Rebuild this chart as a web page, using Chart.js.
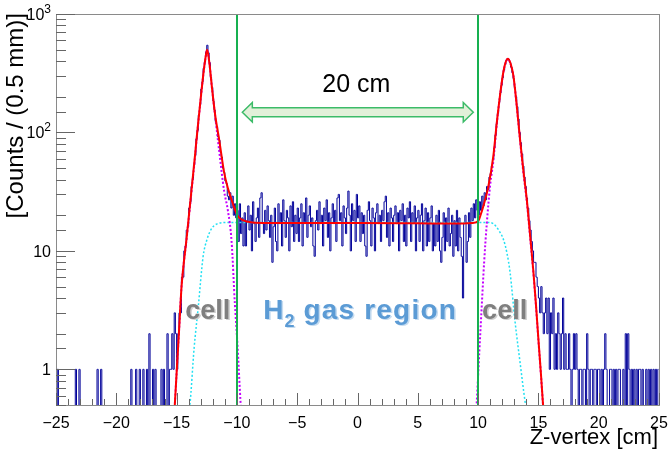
<!DOCTYPE html>
<html>
<head>
<meta charset="utf-8">
<script src="https://cdn.jsdelivr.net/npm/chart.js@4"></script>
<style>
  html, body { margin: 0; padding: 0; background: #fff; }
  #wrap { width: 668px; height: 449px; }
</style>
</head>
<body>
<div id="wrap"><canvas id="zvertex" width="668" height="449"></canvas></div>
<script>
// histogram: 500 bins of 0.1 cm from -25 to 25, one row per 5 cm
const binLow = -25;
const binWidth = 0.1;
const counts = [
  0,1,0,0,0,0,0,0,0,0, 0,0,0,0,0,0,1,0,0,1, 0,0,0,0,0,0,0,0,0,0, 0,0,0,0,1,0,0,1,0,0, 0,0,0,0,0,0,0,0,0,0,
  0,0,0,0,0,0,0,0,0,0, 0,0,1,0,0,0,1,0,0,1, 0,0,1,0,0,1,0,2,0,0, 1,0,1,0,0,0,0,1,0,1, 0,0,2,0,1,1,2,1,3,2,
  1,2,3,3,6,6,10,11,15,16, 23,26,35,40,53,64,88,104,140,172, 232,268,348,392,478,545,470,388,292,240, 185,155,124,112,92,86,68,62,50,46, 39,37,29,27,31,23,29,20,25,19,
  22,12,25,14,19,11,21,11,18,24, 15,20,10,26,17,12,19,23,13,28, 31,17,14,22,15,24,18,13,20,8, 16,23,12,10,25,17,21,11,27,18, 13,22,19,10,24,16,26,12,20,14,
  23,12,19,25,11,21,17,28,13,20, 24,16,19,11,9,18,22,15,26,17, 20,11,23,18,27,13,21,10,19,25, 17,22,12,28,30,18,21,11,24,19, 14,23,32,20,10,25,18,22,12,30,
  19,24,12,21,14,20,11,9,22,26, 18,11,23,19,10,21,25,17,20,12, 22,18,26,29,13,21,11,23,19,12, 20,24,17,21,10,22,18,25,12,20, 11,23,19,26,12,21,17,24,10,19,
  22,12,20,25,10,18,23,11,21,12, 19,24,10,17,11,20,12,22,10,8, 13,21,10,19,12,23,11,14,20,9, 18,11,22,10,19,13,9,4,17,20, 8,12,21,13,23,18,25,19,27,22,
  20,26,22,29,24,31,27,35,33,42, 45,52,60,74,95,118,145,180,215,250, 290,335,375,405,420,415,390,355,320,285, 240,200,165,130,100,82,66,52,42,35, 28,23,18,15,12,10,8,8,6,5,
  4,3,5,3,2,3,4,2,4,1, 3,2,4,1,2,1,3,2,1,2, 4,1,2,1,1,2,1,0,1,2, 1,2,1,0,1,1,0,1,1,0, 2,1,0,1,1,0,1,1,0,1,
  1,0,1,0,1,2,1,0,0,1, 1,0,1,0,1,0,1,1,0,0, 1,0,2,0,2,1,0,1,0,1, 0,1,0,1,1,0,1,0,0,1, 0,1,0,1,0,1,0,1,0,1
];

// total fit (red)
const fitX = [-15.3,-15.15,-15.0,-14.8,-14.59,-14.4,-14.18,-14.0,-13.76,-13.5,-13.35,-13.0,-12.8,-12.6,-12.47,-12.3,-12.05,-11.8,-11.47,-11.06,-10.75,-10.44,-10.1,-9.9,-9.5,-9.2,-8.5,-5,0,5,8,9.5,10.02,10.2,10.44,10.85,11.27,11.55,11.96,12.2,12.46,12.7,12.93,13.2,13.48,13.75,14.04,14.3,14.59,14.8,15.0,15.2,15.37,15.5];
const fitY = [0.3,0.5,0.93,2.1,5,8,12.5,19,33,60,87,195,300,430,500,400,230,140,87,46,34,27,21.5,19.5,18.2,17.7,17.3,17.2,17.2,17.1,17.0,17.2,17.9,20,24,35,64,121,265,365,418,380,300,170,87,48,27,14,6.6,3.5,1.8,0.95,0.53,0.35];

// cell components (magenta dotted)
const cellLX = [-15.3,-15.15,-15.0,-14.8,-14.59,-14.4,-14.18,-14.0,-13.76,-13.5,-13.35,-13.0,-12.8,-12.6,-12.47,-12.3,-12.05,-11.8,-11.47,-11.06,-10.75,-10.44,-10.17,-9.95,-9.7,-9.55];
const cellLY = [0.3,0.5,0.93,2.1,5,8,12.4,18.5,32,58,85,192,298,428,498,398,228,136,70,32,22,12,3.6,1.6,0.53,0.3];
const cellRX = [9.75,9.89,10.1,10.3,10.5,10.72,11.0,11.27,11.55,11.96,12.2,12.46,12.7,12.93,13.2,13.48,13.75,14.04,14.3,14.59,14.8,15.0,15.2,15.37,15.5];
const cellRY = [0.3,0.53,1.4,3.4,8,17,36,58,118,262,362,416,377,297,168,85,46,26,13.5,6.4,3.4,1.75,0.93,0.52,0.34];

// gas component (cyan dotted)
const gasX = [-14.1,-13.9,-13.55,-13.2,-12.8,-12.5,-12.2,-11.9,-11.5,-11,-5,0,5,10.8,11.25,11.7,12.1,12.4,12.65,13.07,13.5,13.9,14.1];
const gasY = [0.4,0.5,1.5,3.4,9,12.3,14.8,16.3,17.1,17.4,17.4,17.4,17.4,17.4,17,15,12.5,9.5,6.6,2.5,1.1,0.53,0.4];

const regionEdges = [-10, 10];
const xTicks = [-25, 25, 5];
// decade labels: [base, exponent]
const yLabels = {1: ['1', ''], 10: ['10', ''], 100: ['10', '2'], 1000: ['10', '3']};

const FONT = "'Liberation Sans', Arial, Helvetica, sans-serif";
const pts = (xs, ys) => xs.map((x, i) => ({x: x, y: ys[i]}));

const decorations = {
  id: 'decorations',
  afterDatasetsDraw(chart) {
    const {ctx, chartArea: a, scales: {x, y}} = chart;
    ctx.save();
    // target cell borders
    ctx.strokeStyle = '#16b050';
    ctx.lineWidth = 2;
    regionEdges.forEach(v => {
      const px = Math.round(x.getPixelForValue(v));
      ctx.beginPath();
      ctx.moveTo(px, a.top);
      ctx.lineTo(px, a.bottom);
      ctx.stroke();
    });
    // double arrow
    const xl = x.getPixelForValue(-9.55), xr = x.getPixelForValue(9.6), yc = y.getPixelForValue(148);
    const hl = 10, hh = 9.7, sh = 4.5;
    ctx.beginPath();
    ctx.moveTo(xl, yc);
    ctx.lineTo(xl + hl, yc - hh);
    ctx.lineTo(xl + hl, yc - sh);
    ctx.lineTo(xr - hl, yc - sh);
    ctx.lineTo(xr - hl, yc - hh);
    ctx.lineTo(xr, yc);
    ctx.lineTo(xr - hl, yc + hh);
    ctx.lineTo(xr - hl, yc + sh);
    ctx.lineTo(xl + hl, yc + sh);
    ctx.lineTo(xl + hl, yc + hh);
    ctx.closePath();
    ctx.fillStyle = '#e2f0d9';
    ctx.fill();
    ctx.strokeStyle = '#3cbb68';
    ctx.lineWidth = 1.5;
    ctx.stroke();

    ctx.fillStyle = '#000';
    ctx.font = '25px ' + FONT;
    ctx.textAlign = 'center';
    ctx.textBaseline = 'alphabetic';
    ctx.fillText('20 cm', x.getPixelForValue(-0.1), y.getPixelForValue(220));

    // labels with a soft shadow
    const shadowText = (txt, px, py, col, shade, align) => {
      ctx.textAlign = align;
      ctx.fillStyle = shade;
      ctx.fillText(txt, px + 1.5, py + 1.5);
      ctx.fillStyle = col;
      ctx.fillText(txt, px, py);
    };
    ctx.font = 'bold 27px ' + FONT;
    const by = y.getPixelForValue(2.68);
    shadowText('cell', x.getPixelForValue(-12.42), by, '#7f7f7f', '#cfcfcf', 'center');
    shadowText('cell', x.getPixelForValue(12.2), by, '#7f7f7f', '#cfcfcf', 'center');

    let hx = x.getPixelForValue(-7.82);
    ctx.font = 'bold 28px ' + FONT;
    shadowText('H', hx, by, '#5b9bd5', '#c6dcf0', 'left');
    hx += ctx.measureText('H').width + 1;
    ctx.font = 'bold 18px ' + FONT;
    shadowText('2', hx, by + 8, '#5b9bd5', '#c6dcf0', 'left');
    hx += ctx.measureText('2').width;
    ctx.font = 'bold 28px ' + FONT;
    ctx.letterSpacing = '1.2px';
    shadowText(' gas region', hx, by, '#5b9bd5', '#c6dcf0', 'left');
    ctx.letterSpacing = '0px';
    ctx.restore();
  },
  afterDraw(chart) {
    const {ctx, chartArea: a, scales: {x, y}} = chart;
    ctx.save();
    // frame
    ctx.strokeStyle = '#8a8a8a';
    ctx.lineWidth = 1;
    ctx.strokeRect(Math.round(a.left) + 0.5, Math.round(a.top) + 0.5, Math.round(a.right - a.left), Math.round(a.bottom - a.top));
    // x ticks (inside)
    ctx.strokeStyle = '#666';
    ctx.beginPath();
    for (let v = xTicks[0]; v <= xTicks[1]; v += 1) {
      const px = Math.round(x.getPixelForValue(v)) + 0.5;
      const len = v % xTicks[2] === 0 ? 12 : 6;
      ctx.moveTo(px, a.bottom);
      ctx.lineTo(px, a.bottom - len);
    }
    // y ticks (inside), log decades
    y.ticks.forEach(t => {
      const py = Math.round(y.getPixelForValue(t.value)) + 0.5;
      const len = yLabels[t.value] ? 19 : 10;
      ctx.moveTo(a.left, py);
      ctx.lineTo(a.left + len, py);
    });
    ctx.stroke();

    // y decade labels with raised exponent
    ctx.fillStyle = '#000';
    ctx.textAlign = 'right';
    ctx.textBaseline = 'alphabetic';
    Object.keys(yLabels).forEach(k => {
      const [base, exp] = yLabels[k];
      const py = y.getPixelForValue(Number(k));
      let right = a.left - 5;
      if (exp) {
        ctx.font = '12px ' + FONT;
        ctx.fillText(exp, right, py - 1);
        right -= ctx.measureText(exp).width;
      }
      ctx.font = '16px ' + FONT;
      ctx.fillText(base, right, py + 6);
    });

    // axis titles
    ctx.font = '22px ' + FONT;
    ctx.textAlign = 'right';
    ctx.fillText('Z-vertex [cm]', 658, 444);

    ctx.translate(23, 13);
    ctx.rotate(-Math.PI / 2);
    ctx.font = '24px ' + FONT;
    ctx.textAlign = 'right';
    ctx.fillText('[Counts / (0.5 mm)]', 0, 0);
    ctx.restore();
  }
};

const ctx = document.getElementById('zvertex').getContext('2d');

new Chart(ctx, {
  type: 'line',
  data: {
    datasets: [
      {
        label: 'fit',
        data: pts(fitX, fitY),
        borderColor: '#ff0000',
        borderWidth: 2,
        pointRadius: 0,
        cubicInterpolationMode: 'monotone',
        order: 0
      },
      {
        label: 'cell upstream',
        data: pts(cellLX, cellLY),
        borderColor: '#c400ff',
        borderWidth: 2,
        borderDash: [2, 2],
        pointRadius: 0,
        cubicInterpolationMode: 'monotone',
        order: 1
      },
      {
        label: 'cell downstream',
        data: pts(cellRX, cellRY),
        borderColor: '#c400ff',
        borderWidth: 2,
        borderDash: [2, 2],
        pointRadius: 0,
        cubicInterpolationMode: 'monotone',
        order: 1
      },
      {
        label: 'H2 gas',
        data: pts(gasX, gasY),
        borderColor: '#22e0f2',
        borderWidth: 1.5,
        borderDash: [2, 2],
        pointRadius: 0,
        cubicInterpolationMode: 'monotone',
        order: 2
      },
      {
        label: 'data',
        data: counts.map((c, i) => ({x: binLow + (i + 0.5) * binWidth, y: c > 0 ? c : 0.1})),
        borderColor: '#000099',
        borderWidth: 1,
        pointRadius: 0,
        stepped: 'middle',
        order: 3
      }
    ]
  },
  options: {
    responsive: false,
    animation: false,
    events: [],
    layout: { padding: { top: 14, right: 9, bottom: 0, left: 0 } },
    plugins: {
      legend: { display: false },
      tooltip: { enabled: false }
    },
    scales: {
      x: {
        type: 'linear',
        min: xTicks[0],
        max: xTicks[1],
        grid: { display: false, drawTicks: false },
        border: { display: false },
        ticks: {
          stepSize: xTicks[2],
          padding: 9,
          color: '#000',
          font: { family: FONT, size: 16 },
          maxRotation: 0,
          callback: v => String(v).replace('-', '\u2212')
        },
        afterFit(s) { s.height = 44; s.paddingLeft = 0; s.paddingRight = 0; }
      },
      y: {
        type: 'logarithmic',
        min: 0.5,
        max: 1000,
        grid: { display: false, drawTicks: false },
        border: { display: false },
        ticks: {
          autoSkip: false,
          padding: 5,
          display: true,
          color: 'rgba(0,0,0,0)',
          font: { family: FONT, size: 16 },
          callback: v => (yLabels[v] ? yLabels[v].join('') : '')
        },
        afterFit(s) { s.width = 56; s.paddingTop = 0; s.paddingBottom = 0; }
      }
    }
  },
  plugins: [decorations]
});
</script>
</body>
</html>
